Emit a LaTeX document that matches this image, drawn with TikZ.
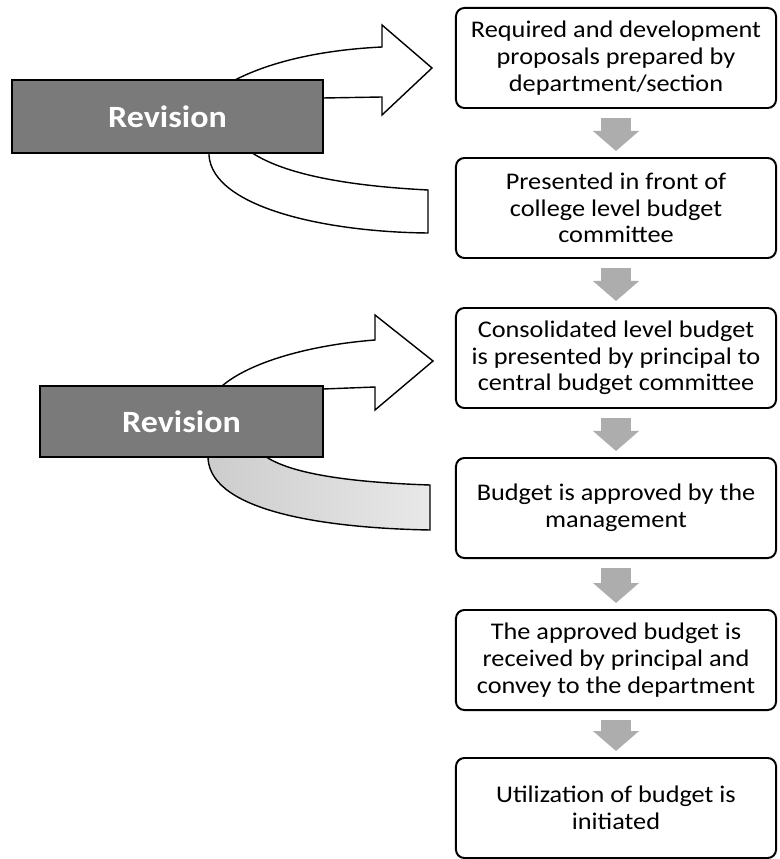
\documentclass[tikz,border=0pt]{standalone}
\usepackage{fontspec}
\setmainfont[FakeStretch=1.1]{Carlito}
\usepackage{tkz-euclide}
\usetikzlibrary{arrows.meta}

\tikzset{
  stepbox/.style={draw, line width=1.4pt, rounded corners=6pt, fill=white,
    minimum width=8cm, minimum height=2.5cm, align=center, inner sep=2pt,
    font=\fontsize{17}{19}\selectfont},
  revbox/.style={draw, line width=1pt, fill=black!52, text=white,
    font=\fontsize{22}{24}\selectfont\bfseries},
  downarrow/.style={draw=black!32, line width=0.75cm,
    -{Triangle[width=1.125cm,length=0.5cm]},
    shorten <=0.225cm, shorten >=0.15cm},
  bendarrow/.style={draw, line width=1pt, fill=white}
}

\begin{document}
\begin{tikzpicture}[x=0.025cm,y=-0.025cm]
\useasboundingbox (0,0) rectangle (780,859);

\tkzDefPoint(235,80){sA}
\tkzDefPoint(382,47){hA}
\tkzDefPoint(382,25){hB}
\tkzDefPoint(432,68){hC}
\tkzDefPoint(382,115){hD}
\tkzDefPoint(382,97){hE}
\tkzDefPoint(323,98){sB}
\tkzDefPoint(290,102){sC}
\draw[bendarrow] (sA) .. controls (270,62) and (320,50) .. (hA)
  -- (hB) -- (hC) -- (hD) -- (hE) -- (sB) -- (sC) -- cycle;

\tkzDefPoint(209,150){bA}
\tkzDefPoint(428,233){bB}
\tkzDefPoint(428,190){bC}
\tkzDefPoint(248,150){bD}
\draw[bendarrow] (bA) .. controls (205,205) and (320,232) .. (bB)
  -- (bC) .. controls (330,185) and (275,170) .. (bD) -- cycle;

\node[revbox, minimum width=7.775cm, minimum height=1.825cm] (rev1) at (167.5,116.5) {Revision};

\tkzDefPoint(222,386){tA}
\tkzDefPoint(375,340){gA}
\tkzDefPoint(375,315){gB}
\tkzDefPoint(433,361){gC}
\tkzDefPoint(375,410){gD}
\tkzDefPoint(375,387){gE}
\tkzDefPoint(323,389){tB}
\tkzDefPoint(290,393){tC}
\draw[bendarrow] (tA) .. controls (250,362) and (310,345) .. (gA)
  -- (gB) -- (gC) -- (gD) -- (gE) -- (tB) -- (tC) -- cycle;

\tkzDefPoint(208,454){cA}
\tkzDefPoint(430,530){cB}
\tkzDefPoint(430,485){cC}
\tkzDefPoint(262,454){cD}
\draw[bendarrow, left color=black!20, right color=black!9] (cA) .. controls (205,510) and (320,528) .. (cB)
  -- (cC) .. controls (340,482) and (285,472) .. (cD) -- cycle;

\node[revbox, minimum width=7.075cm, minimum height=1.775cm] (rev2) at (181.5,421.5) {Revision};

\node[stepbox] (b1) at (616,58) {Required and development\\proposals prepared by\\department/section};
\node[stepbox] (b2) at (616,208) {Presented in front of\\college level budget\\committee};
\node[stepbox] (b3) at (616,358) {Consolidated level budget\\is presented by principal to\\central budget committee};
\node[stepbox] (b4) at (616,508) {Budget is approved by the\\management};
\node[stepbox] (b5) at (616,660) {The approved budget is\\received by principal and\\convey to the department};
\node[stepbox] (b6) at (616,808) {Utilization of budget is\\initiated};

\draw[downarrow] (b1) -- (b2);
\draw[downarrow] (b2) -- (b3);
\draw[downarrow] (b3) -- (b4);
\draw[downarrow] (b4) -- (b5);
\draw[downarrow] (b5) -- (b6);

\end{tikzpicture}
\end{document}
